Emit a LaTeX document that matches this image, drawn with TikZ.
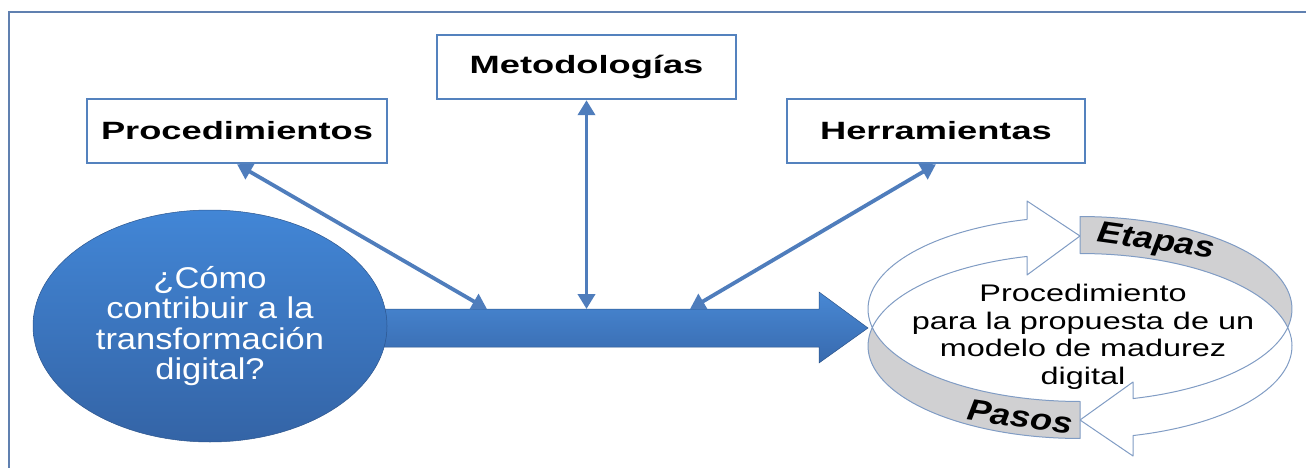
\documentclass[tikz,border=0pt]{standalone}
\usepackage{fontspec}
\setmainfont{Liberation Sans}
\newfontfamily\boxfont{Liberation Sans}[FakeStretch=1.45]
\newfontfamily\ovalfont{Liberation Sans}[FakeStretch=1.15]
\newfontfamily\ringfont{Liberation Sans}[FakeStretch=1.35]
\newfontfamily\bandfont{Liberation Sans}[FakeStretch=1.2]
\usetikzlibrary{arrows.meta,shapes.geometric}

\definecolor{frameblue}{RGB}{96,128,176}
\definecolor{boxblue}{RGB}{84,130,190}
\definecolor{linkblue}{RGB}{79,125,188}
\definecolor{ovaltop}{RGB}{66,134,214}
\definecolor{ovalbot}{RGB}{52,100,166}
\definecolor{flowtop}{RGB}{72,136,212}
\definecolor{flowbot}{RGB}{56,106,174}
\definecolor{ringline}{RGB}{128,156,196}
\definecolor{bandgrey}{RGB}{208,208,210}

% ring geometry: two equal ellipses, offset vertically
\def\ringcx{1080}
\def\ringay{309}
\def\ringby{346}
\def\ringrx{212}
\def\ringry{92.5}

\begin{document}
\begin{tikzpicture}[x=1pt, y=-1pt,
  frameline/.style={draw=frameblue, line width=2.4pt},
  labelbox/.style={draw=boxblue, line width=2.4pt, fill=white,
    minimum width=#1, minimum height=64pt, inner sep=0pt,
    font=\boxfont\bfseries\fontsize{25}{28}\selectfont},
  link/.style={draw=linkblue, line width=3.8pt,
    {Triangle[length=15pt,width=17pt]}-{Triangle[length=15pt,width=17pt]}},
  ringpiece/.style={draw=ringline, line width=1pt, line join=round},
  bandlabel/.style={font=\bandfont\bfseries\itshape\fontsize{30}{33}\selectfont,
    rotate=-8, inner sep=0pt}
]
\useasboundingbox (0,0) rectangle (1306,468);

% outer frame (left and top edges)
\draw[frameline] (9,468) -- (9,12) -- (1306,12);

% labelled boxes
\node[labelbox=300pt] (proc) at (237,131) {Procedimientos};
\node[labelbox=299pt] (meto) at (586.5,67) {Metodologías};
\node[labelbox=298pt] (herr) at (936,131) {Herramientas};

% main flow arrow
\shade[top color=flowtop, bottom color=flowbot, draw=flowbot!80!black, line width=0.5pt]
  (370,309) -- (819,309) -- (819,292) -- (868,328) -- (819,363) -- (819,347) -- (370,347) -- cycle;
\coordinate (s1) at (487,309);
\coordinate (s2) at (586.5,309);
\coordinate (s3) at (690,309);

% double-headed links
\draw[link] (proc.south) -- (s1);
\draw[link] (meto.south) -- (s2);
\draw[link] (herr.south) -- (s3);

% question oval
\node[ellipse, minimum width=354pt, minimum height=232pt, inner sep=0pt,
      top color=ovaltop, bottom color=ovalbot, draw=ovalbot!85!black, line width=0.5pt,
      text=white, align=center, font=\ovalfont\fontsize{30}{30.5}\selectfont] (quest) at (210,326)
  {¿Cómo\\contribuir a la\\transformación\\digital?};

% cycle ring: upper arrow
\filldraw[ringpiece, fill=white]
  plot[domain=191.54:104.48, samples=40, variable=\t]
    ({\ringcx+\ringrx*cos(\t)}, {\ringay-\ringry*sin(\t)})
  -- (1027,201) -- (1080,236) -- (1027,275)
  -- plot[domain=104.48:168.46, samples=30, variable=\t]
    ({\ringcx+\ringrx*cos(\t)}, {\ringby-\ringry*sin(\t)})
  -- cycle;
% upper grey band
\filldraw[ringpiece, fill=bandgrey]
  plot[domain=90:-11.54, samples=40, variable=\t]
    ({\ringcx+\ringrx*cos(\t)}, {\ringay-\ringry*sin(\t)})
  -- plot[domain=11.54:90, samples=30, variable=\t]
    ({\ringcx+\ringrx*cos(\t)}, {\ringby-\ringry*sin(\t)})
  -- cycle;
% lower arrow
\filldraw[ringpiece, fill=white]
  plot[domain=-11.54:-75.52, samples=30, variable=\t]
    ({\ringcx+\ringrx*cos(\t)}, {\ringay-\ringry*sin(\t)})
  -- (1133,382) -- (1080,420) -- (1133,456)
  -- plot[domain=-75.52:11.54, samples=40, variable=\t]
    ({\ringcx+\ringrx*cos(\t)}, {\ringby-\ringry*sin(\t)})
  -- cycle;
% lower grey band
\filldraw[ringpiece, fill=bandgrey]
  plot[domain=-90:-168.46, samples=30, variable=\t]
    ({\ringcx+\ringrx*cos(\t)}, {\ringay-\ringry*sin(\t)})
  -- plot[domain=168.46:270, samples=40, variable=\t]
    ({\ringcx+\ringrx*cos(\t)}, {\ringby-\ringry*sin(\t)})
  -- cycle;

% ring texts
\node[bandlabel] (etapas) at (1156,243) {Etapas};
\node[bandlabel] (pasos) at (1020,417) {Pasos};
\node[align=center, inner sep=0pt, font=\ringfont\fontsize{24}{27.5}\selectfont] (goal) at (1083,337)
  {Procedimiento\\para la propuesta de un\\modelo de madurez\\digital};
\end{tikzpicture}
\end{document}
